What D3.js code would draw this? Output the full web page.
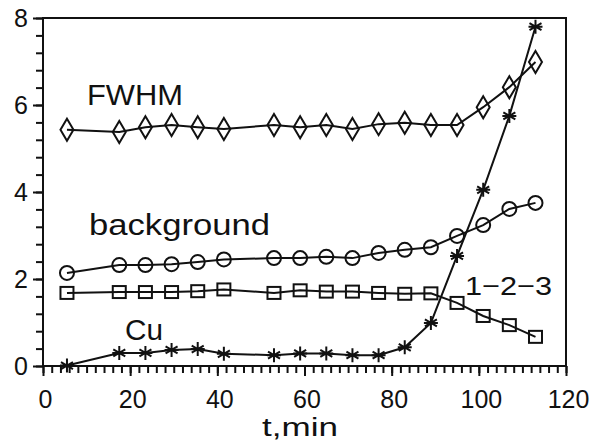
<!DOCTYPE html>
<html>
<head>
<meta charset="utf-8">
<script src="https://cdn.jsdelivr.net/npm/d3@7"></script>
<style>
body { margin: 0; background: #fff; }
svg { display: block; }
text { font-family: "Liberation Sans", Arial, sans-serif; fill: #111; }
</style>
</head>
<body>
<svg class="chart"></svg>
<script>
// time of each measurement (min)
var times = [5.5, 17.5, 23.5, 29.5, 35.5, 41.5, 53, 59, 65, 71, 77, 83, 89, 95, 101, 107, 113];

var fwhm = [5.43, 5.38, 5.49, 5.54, 5.49, 5.45, 5.54, 5.49, 5.54, 5.45, 5.56, 5.59, 5.54, 5.54, 5.95, 6.41, 6.99];
var background = [2.14, 2.32, 2.32, 2.34, 2.39, 2.45, 2.48, 2.48, 2.51, 2.48, 2.6, 2.67, 2.73, 2.99, 3.24, 3.61, 3.75];
var phase123 = [1.68, 1.7, 1.7, 1.7, 1.72, 1.76, 1.68, 1.74, 1.71, 1.71, 1.68, 1.66, 1.67, 1.45, 1.15, 0.94, 0.67];
var cu = [0.01, 0.3, 0.3, 0.37, 0.39, 0.28, 0.25, 0.29, 0.29, 0.25, 0.25, 0.43, 0.99, 2.53, 4.05, 5.75, 7.8];

var xTicks = [0, 20, 40, 60, 80, 100, 120];
var yTicks = [0, 2, 4, 6, 8];

var width = 593, height = 442;
var plot = {left: 43, right: 566, top: 18, bottom: 366};

var x = d3.scaleLinear().domain([0, 120]).range([plot.left, plot.right]);
var y = d3.scaleLinear().domain([0, 8]).range([plot.bottom, plot.top]);

var svg = d3.select(".chart")
	.attr("width", width)
	.attr("height", height);

// frame
svg.append("rect")
	.attr("x", plot.left).attr("y", plot.top)
	.attr("width", plot.right - plot.left).attr("height", plot.bottom - plot.top)
	.attr("fill", "none").attr("stroke", "#111").attr("stroke-width", 2);

// x axis: minor ticks every 2 min, major every 20
svg.append("g")
	.attr("transform", "translate(0," + plot.bottom + ")")
	.call(d3.axisBottom(x).tickValues(d3.range(0, 121, 2)).tickSize(7).tickSizeOuter(0).tickFormat(""));
svg.append("g")
	.attr("class", "xmajor")
	.attr("transform", "translate(0," + plot.bottom + ")")
	.call(d3.axisBottom(x).tickValues(xTicks).tickSize(10).tickSizeOuter(0).tickPadding(14));

// y axis: minor ticks every 0.4
svg.append("g")
	.attr("transform", "translate(" + plot.left + ",0)")
	.call(d3.axisLeft(y).tickValues(d3.range(0, 8.01, 0.4)).tickSize(7).tickSizeOuter(0).tickFormat(""));
svg.append("g")
	.attr("class", "ymajor")
	.attr("transform", "translate(" + plot.left + ",0)")
	.call(d3.axisLeft(y).tickValues(yTicks).tickSize(10).tickSizeOuter(0).tickPadding(5));

svg.selectAll(".domain").remove();
svg.selectAll(".tick line").attr("stroke", "#111").attr("stroke-width", 2);
svg.selectAll(".xmajor text, .ymajor text")
	.style("font-family", "Liberation Sans, Arial, sans-serif")
	.style("font-size", "25px")
	.attr("fill", "#111");
svg.selectAll(".xmajor text").attr("dx", 2);

var line = d3.line()
	.x((d, i) => x(times[i]))
	.y(d => y(d));

var series = [
	{values: fwhm, shape: "diamond"},
	{values: background, shape: "circle"},
	{values: phase123, shape: "square"},
	{values: cu, shape: "star"}
];

series.forEach(function(s) {
	svg.append("path")
		.attr("d", line(s.values))
		.attr("fill", "none")
		.attr("stroke", "#111")
		.attr("stroke-width", 2);

	var pts = svg.append("g").selectAll("g")
		.data(s.values)
		.enter()
		.append("g")
		.attr("transform", (d, i) => "translate(" + x(times[i]) + "," + y(d) + ")")
		.attr("fill", "none")
		.attr("stroke", "#111")
		.attr("stroke-width", 2);

	if (s.shape == "diamond") {
		pts.append("path").attr("d", "M0,-11L6.5,0L0,11L-6.5,0Z");
	} else if (s.shape == "circle") {
		pts.append("circle").attr("r", 7);
	} else if (s.shape == "square") {
		pts.append("rect").attr("x", -6.5).attr("y", -6).attr("width", 13).attr("height", 12);
	} else {
		pts.append("path").attr("d", "M0,-7L0,7M-6,-3.5L6,3.5M-6,3.5L6,-3.5M-7,0L7,0");
	}
});

// curve labels
var labels = [
	{text: "FWHM", x: 87, y: 105, len: 96, size: 29},
	{text: "background", x: 89, y: 235, len: 181, size: 30},
	{text: "1\u22122\u22123", x: 465, y: 295, len: 87, size: 26},
	{text: "Cu", x: 125, y: 340, len: 38, size: 29},
	{text: "t,min", x: 262, y: 436, len: 76, size: 26}
];

svg.selectAll(".label")
	.data(labels)
	.enter()
	.append("text")
	.attr("class", "label")
	.attr("x", d => d.x)
	.attr("y", d => d.y)
	.attr("textLength", d => d.len)
	.attr("lengthAdjust", "spacingAndGlyphs")
	.style("font-size", d => d.size + "px")
	.text(d => d.text);
</script>
</body>
</html>
